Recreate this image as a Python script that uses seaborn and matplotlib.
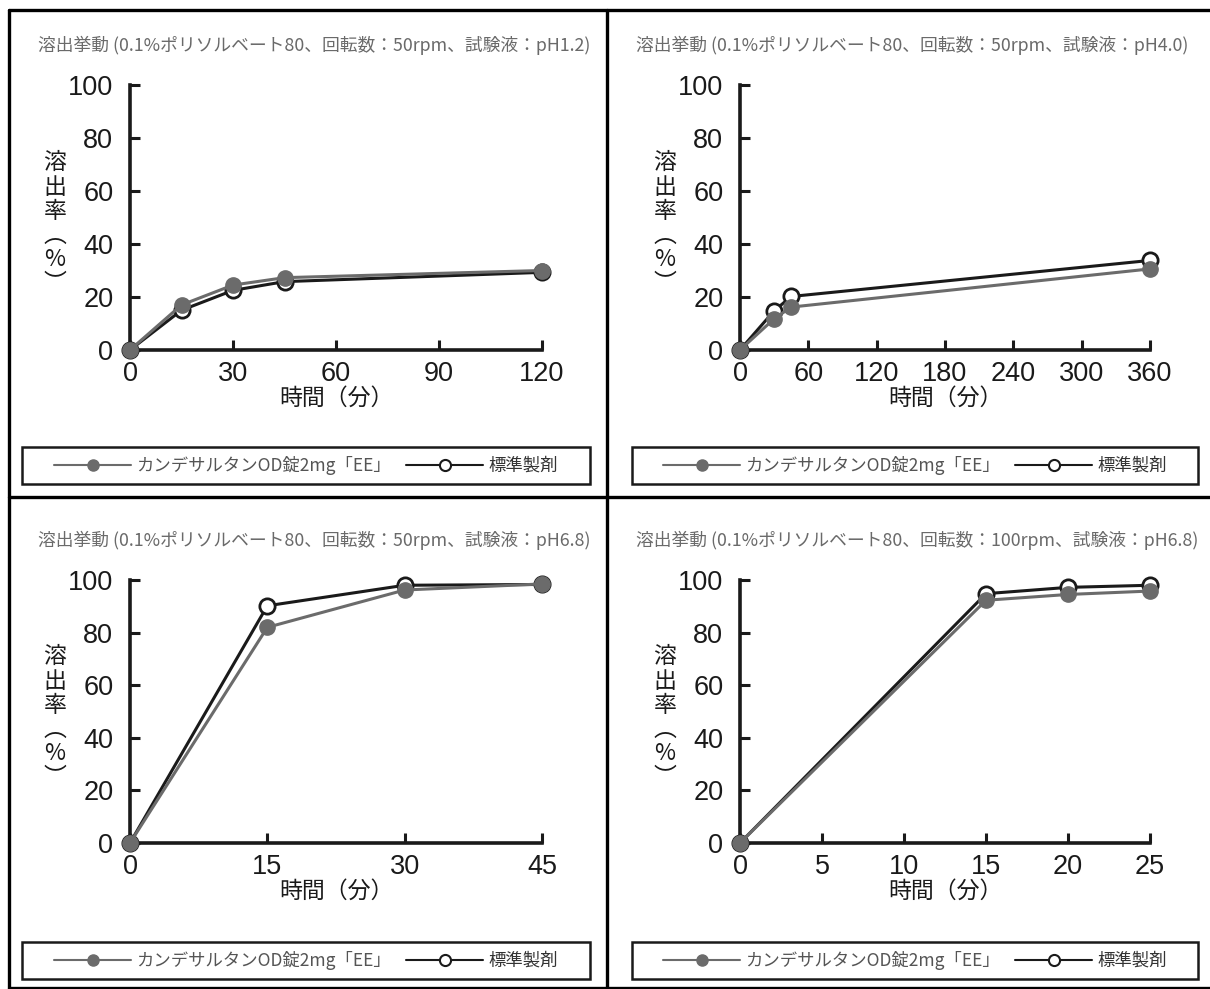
import matplotlib
matplotlib.use("Agg")
import matplotlib.pyplot as plt
import seaborn as sns
from matplotlib.lines import Line2D
from matplotlib.patches import Rectangle

# %%
# data
titles = [
    "溶出挙動 (0.1%ポリソルベート80、回転数：50rpm、試験液：pH1.2)",
    "溶出挙動 (0.1%ポリソルベート80、回転数：50rpm、試験液：pH4.0)",
    "溶出挙動 (0.1%ポリソルベート80、回転数：50rpm、試験液：pH6.8)",
    "溶出挙動 (0.1%ポリソルベート80、回転数：100rpm、試験液：pH6.8)",
]
test_name = "カンデサルタンOD錠2mg「EE」"
ref_name = "標準製剤"

time_ph12 = [0, 15, 30, 45, 120]
test_ph12 = [0, 17.0, 24.5, 27.3, 30.0]
ref_ph12 = [0, 15.0, 22.5, 25.8, 29.3]

time_ph40 = [0, 30, 45, 360]
test_ph40 = [0, 11.8, 16.2, 30.6]
ref_ph40 = [0, 14.8, 20.2, 33.8]

time_ph68 = [0, 15, 30, 45]
test_ph68 = [0, 82.0, 96.2, 98.5]
ref_ph68 = [0, 90.2, 98.0, 98.3]

time_ph68_100 = [0, 15, 20, 25]
test_ph68_100 = [0, 92.3, 94.5, 95.8]
ref_ph68_100 = [0, 94.8, 97.2, 98.0]

xticks_list = [
    [0, 30, 60, 90, 120],
    [0, 60, 120, 180, 240, 300, 360],
    [0, 15, 30, 45],
    [0, 5, 10, 15, 20, 25],
]
yticks = [0, 20, 40, 60, 80, 100]

panels = [
    (time_ph12, test_ph12, ref_ph12),
    (time_ph40, test_ph40, ref_ph40),
    (time_ph68, test_ph68, ref_ph68),
    (time_ph68_100, test_ph68_100, ref_ph68_100),
]

# %%
sns.set_style("ticks")
plt.rcParams['font.family'] = ['Liberation Sans', 'Noto Sans CJK JP', 'DejaVu Sans']
JP = ['Noto Sans CJK JP', 'DejaVu Sans']

W, H = 1210, 989
fig = plt.figure(figsize=(W / 100, H / 100), dpi=100)


def fx(px):
    return px / W


def fy(py):
    return 1 - py / H


gray = '#6b6b6b'
black = '#1a1a1a'
title_gray = '#6a6a6a'

# axes boxes in pixels: left, right, top(100), bottom(0)
boxes = [
    (130, 542, 85, 350),
    (740, 1150, 85, 350),
    (130, 542, 580, 843),
    (740, 1150, 580, 843),
]
title_pos = [(38, 45), (636, 45), (38, 540), (636, 540)]
legend_boxes = [(22, 590, 447, 484), (632, 1198, 447, 484),
                (22, 590, 942, 979), (632, 1198, 942, 979)]

for i, (t, test, ref) in enumerate(panels):
    l, r, top, bot = boxes[i]
    ax = fig.add_axes([fx(l), fy(bot), (r - l) / W, (bot - top) / H])

    sns.lineplot(x=t, y=ref, ax=ax, color=black, lw=2.2, marker='o',
                 markersize=11, markerfacecolor='white', markeredgecolor=black,
                 mew=2.0, clip_on=False, zorder=3)
    sns.lineplot(x=t, y=test, ax=ax, color=gray, lw=2.2, marker='o',
                 markersize=11, markerfacecolor=gray, markeredgecolor=gray,
                 mew=1.0, clip_on=False, zorder=4)

    ax.set_xlim(0, xticks_list[i][-1])
    ax.set_ylim(0, 100)
    ax.set_xticks(xticks_list[i])
    ax.set_yticks(yticks)
    ax.tick_params(direction='in', length=7, width=2.2, labelsize=19.5,
                   colors=black)
    ax.tick_params(axis='y', pad=12)
    ax.tick_params(axis='x', pad=8)
    for s in ['top', 'right']:
        ax.spines[s].set_visible(False)
    for s in ['left', 'bottom']:
        ax.spines[s].set_linewidth(2.6)
        ax.spines[s].set_color(black)
    ax.set_xlabel('')
    ax.set_ylabel('')
    ax.grid(False)

    # title
    tx, ty = title_pos[i]
    fig.text(fx(tx), fy(ty), titles[i], fontsize=12.8, color=title_gray,
             family=JP, ha='left', va='center')
    # x label
    fig.text(fx((l + r) / 2), fy(bot + 48), "時間（分）", fontsize=16.5,
             color=black, family=JP, ha='center', va='center')
    # y label (vertical writing, vertical-form parentheses)
    fig.text(fx(l - 75), fy((top + bot) / 2 + 6), "溶\n出\n率\n︵\n%\n︶",
             fontsize=16.5, color=black, family=JP, ha='center', va='center',
             linespacing=1.07, multialignment='center')

    # legend box
    lx0, lx1, ly0, ly1 = legend_boxes[i]
    fig.add_artist(Rectangle((fx(lx0), fy(ly1)), (lx1 - lx0) / W, (ly1 - ly0) / H,
                             transform=fig.transFigure, fill=False,
                             edgecolor=black, lw=1.8))
    handles = [
        Line2D([], [], color=gray, lw=1.5, marker='o', markersize=8,
               markerfacecolor=gray, markeredgecolor=gray),
        Line2D([], [], color=black, lw=1.5, marker='o', markersize=8,
               markerfacecolor='white', markeredgecolor=black, mew=1.5),
    ]
    leg = fig.legend(handles, [test_name, ref_name], ncol=2, frameon=False,
                     loc='center', bbox_to_anchor=(fx((lx0 + lx1) / 2), fy((ly0 + ly1) / 2)),
                     prop={'family': JP, 'size': 12.5}, handlelength=4.4,
                     handletextpad=0.3, columnspacing=0.9)
    leg.get_texts()[0].set_color('#555555')
    leg.get_texts()[1].set_color('#333333')

# panel borders
bw = 2.4
fig.add_artist(Line2D([fx(9), fx(9)], [fy(10), fy(988)], transform=fig.transFigure, color='black', lw=bw))
fig.add_artist(Line2D([fx(9), fx(1210)], [fy(10), fy(10)], transform=fig.transFigure, color='black', lw=bw))
fig.add_artist(Line2D([fx(9), fx(1210)], [fy(988), fy(988)], transform=fig.transFigure, color='black', lw=bw))
fig.add_artist(Line2D([fx(607), fx(607)], [fy(10), fy(988)], transform=fig.transFigure, color='black', lw=bw))
fig.add_artist(Line2D([fx(9), fx(1210)], [fy(497), fy(497)], transform=fig.transFigure, color='black', lw=bw))

fig.savefig('out.png', dpi=100, facecolor='white')
